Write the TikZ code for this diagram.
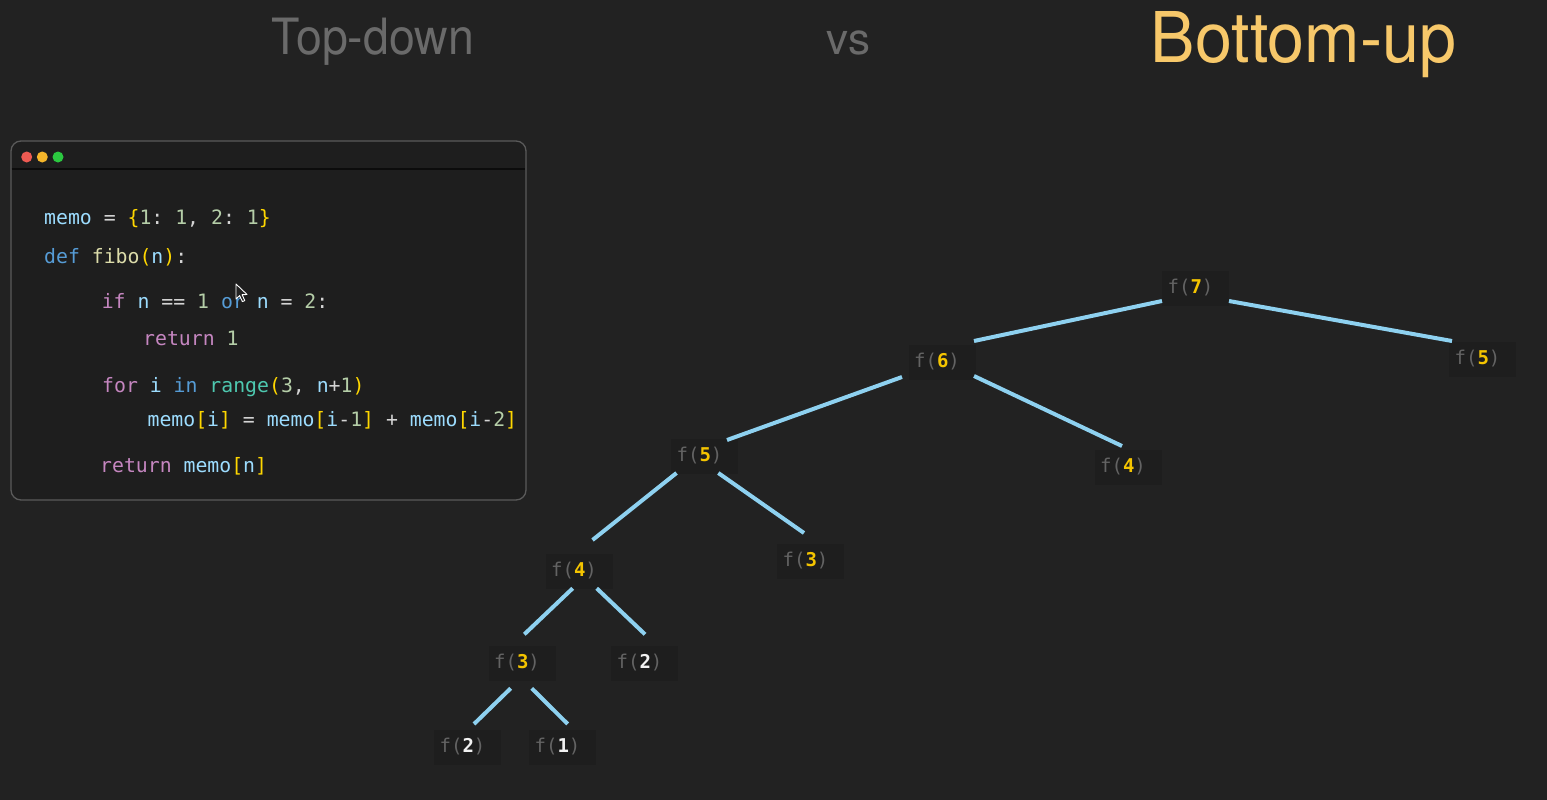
\documentclass[tikz,border=0pt]{standalone}
\usepackage{fontspec}
\setmainfont{TeX Gyre Heros}
\setmonofont{DejaVu Sans Mono}
\usetikzlibrary{calc}
\definecolor{bg}{HTML}{222222}
\definecolor{boxbg}{HTML}{1E1E1E}
\definecolor{boxborder}{HTML}{5A5A5A}
\definecolor{headline}{HTML}{0C0C0C}
\definecolor{nodebg}{HTML}{1E1E1E}
\definecolor{fgray}{HTML}{636363}
\definecolor{numyellow}{HTML}{F4C400}
\definecolor{numwhite}{HTML}{F2F2F2}
\definecolor{edgeblue}{HTML}{8ED1F0}
\definecolor{titlegray}{HTML}{6A6A6A}
\definecolor{titleorange}{HTML}{F7C86A}
\definecolor{dotred}{HTML}{EE5A52}
\definecolor{dotyellow}{HTML}{F5B62A}
\definecolor{dotgreen}{HTML}{2BC840}
\definecolor{cvar}{HTML}{9CDCFE}
\definecolor{cop}{HTML}{D4D4D4}
\definecolor{cbr}{HTML}{FFD700}
\definecolor{cnum}{HTML}{B5CEA8}
\definecolor{ckw}{HTML}{569CD6}
\definecolor{cfn}{HTML}{DCDCAA}
\definecolor{cctl}{HTML}{C586C0}
\definecolor{ctype}{HTML}{4EC9B0}
\newcommand{\hlvar}[1]{\textcolor{cvar}{#1}}
\newcommand{\hlop}[1]{\textcolor{cop}{#1}}
\newcommand{\hlbr}[1]{\textcolor{cbr}{#1}}
\newcommand{\hlnum}[1]{\textcolor{cnum}{#1}}
\newcommand{\hlkw}[1]{\textcolor{ckw}{#1}}
\newcommand{\hlfn}[1]{\textcolor{cfn}{#1}}
\newcommand{\hlctl}[1]{\textcolor{cctl}{#1}}
\newcommand{\hltype}[1]{\textcolor{ctype}{#1}}
\newcommand{\fcall}[2]{\textcolor{fgray}{f(}\textcolor{#2}{\bfseries #1}\textcolor{fgray}{)}\kern10pt}
\tikzset{
  codeline/.style={anchor=base west, inner sep=0pt, font=\ttfamily\fontsize{19.8}{24}\selectfont},
  fbox/.style={fill=nodebg, minimum width=67pt, minimum height=35pt, inner sep=0pt, font=\ttfamily\fontsize{19}{23}\selectfont},
  treeedge/.style={draw=edgeblue, line width=4pt},
  title/.style={anchor=base, inner sep=0pt}
}
\begin{document}
\begin{tikzpicture}[x=1pt,y=-1pt]
\fill[bg] (0,0) rectangle (1547,800);
\useasboundingbox (0,0) rectangle (1547,800);

% titles
\node[title, text=titlegray, font=\fontsize{50}{60}\selectfont] (t1) at (373,55) {\scalebox{0.93}[1]{Top-down}};
\node[title, text=titlegray, font=\fontsize{44}{52}\selectfont] (t2) at (848.5,55) {vs};
\node[title, text=titleorange, font=\fontsize{70}{84}\selectfont] (t3) at (1303.5,62.7) {\scalebox{0.95}[1]{Bottom-up}};

% code window
\draw[fill=boxbg, draw=boxborder, line width=1.3pt, rounded corners=10pt] (11,141) rectangle (526,500);
\draw[headline, line width=2pt] (11.7,169) -- (525.3,169);
\fill[dotred] (26.7,157) circle[radius=5.5pt];
\fill[dotyellow] (42.3,157) circle[radius=5.5pt];
\fill[dotgreen] (58,157) circle[radius=5.5pt];

\node[codeline] (l1) at (44,224.3) {\hlvar{memo} \hlop{=} \hlbr{\{}\hlnum{1}\hlop{:} \hlnum{1}\hlop{,} \hlnum{2}\hlop{:} \hlnum{1}\hlbr{\}}};
\node[codeline] (l2) at (44,263.3) {\hlkw{def} \hlfn{fibo}\hlbr{(}\hlvar{n}\hlbr{)}\hlop{:}};
\node[codeline] (l3) at (101.6,308.3) {\hlctl{if} \hlvar{n} \hlop{==} \hlnum{1} \hlkw{or} \hlvar{n} \hlop{=} \hlnum{2}\hlop{:}};
\node[codeline] (l4) at (143,345) {\hlctl{return} \hlnum{1}};
\node[codeline] (l5) at (102,392.3) {\hlctl{for} \hlvar{i} \hlkw{in} \hltype{range}\hlbr{(}\hlnum{3}\hlop{,} \hlvar{n}\hlop{+}\hlnum{1}\hlbr{)}};
\node[codeline] (l6) at (147.4,426) {\hlvar{memo}\hlbr{[}\hlvar{i}\hlbr{]} \hlop{=} \hlvar{memo}\hlbr{[}\hlvar{i}\hlop{-}\hlnum{1}\hlbr{]} \hlop{+} \hlvar{memo}\hlbr{[}\hlvar{i}\hlop{-}\hlnum{2}\hlbr{]}};
\node[codeline] (l7) at (100,472.7) {\hlctl{return} \hlvar{memo}\hlbr{[}\hlvar{n}\hlbr{]}};

% mouse pointer
\draw[fill=bg, draw=white, line width=0.9pt, line join=round]
  (236,284) -- (236,299) -- (239.6,295.6) -- (242.4,301.6) -- (244.8,300.6) -- (242.1,294.7) -- (247,294.5) -- cycle;

% tree nodes
\node[fbox] (f7)  at (1195.5,288) {\fcall{7}{numyellow}};
\node[fbox] (f6)  at (942,362)    {\fcall{6}{numyellow}};
\node[fbox] (f5r) at (1482.5,359) {\fcall{5}{numyellow}};
\node[fbox] (f4r) at (1128,467)   {\fcall{4}{numyellow}};
\node[fbox] (f5l) at (704.5,456)  {\fcall{5}{numyellow}};
\node[fbox] (f3m) at (810.5,561)  {\fcall{3}{numyellow}};
\node[fbox] (f4l) at (579,571)    {\fcall{4}{numyellow}};
\node[fbox] (f3l) at (522,663)    {\fcall{3}{numyellow}};
\node[fbox] (f2m) at (644.5,663)  {\fcall{2}{numwhite}};
\node[fbox] (f2b) at (467.5,747)  {\fcall{2}{numwhite}};
\node[fbox] (f1)  at (562.5,747)  {\fcall{1}{numwhite}};

% edges
\draw[treeedge] ($(f7)+(-33.5,13)$) -- ($(f6)+(32,-21)$);
\draw[treeedge] ($(f7)+(33.5,13)$) -- ($(f5r)+(-30.5,-18)$);
\draw[treeedge] ($(f6)+(-40,15)$) -- ($(f5l)+(22.5,-16)$);
\draw[treeedge] ($(f6)+(32,14)$) -- ($(f4r)+(-6,-21)$);
\draw[treeedge] ($(f5l)+(-28,17)$) -- ($(f4l)+(13.5,-31)$);
\draw[treeedge] ($(f5l)+(13.8,17)$) -- ($(f3m)+(-6.5,-28)$);
\draw[treeedge] ($(f4l)+(-6.3,17.3)$) -- ($(f3l)+(2.3,-28.7)$);
\draw[treeedge] ($(f4l)+(17.7,17.3)$) -- ($(f2m)+(0.5,-28.7)$);
\draw[treeedge] ($(f3l)+(-11.3,25.3)$) -- ($(f2b)+(6.5,-23)$);
\draw[treeedge] ($(f3l)+(9.7,25.3)$) -- ($(f1)+(5.2,-23)$);
\end{tikzpicture}
\end{document}
